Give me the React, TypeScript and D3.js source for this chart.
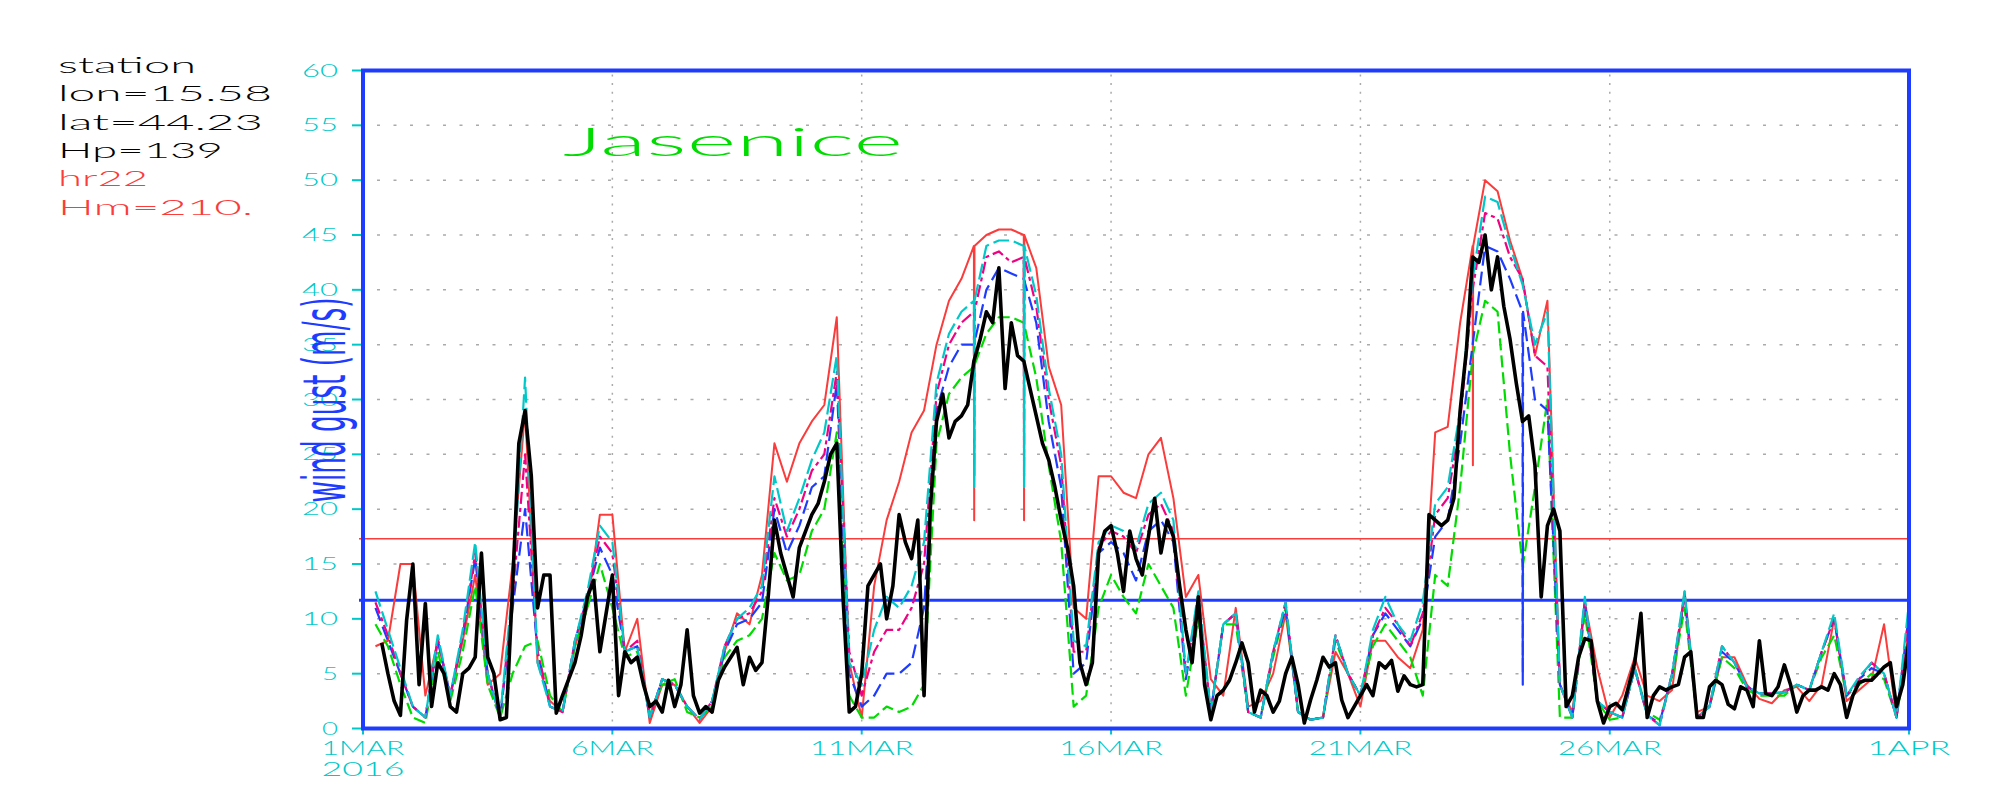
import React from "react";
import * as d3 from "d3";

// ---------------- DATA ----------------
const startDate = new Date(Date.UTC(2016, 2, 1));
const endDate = new Date(Date.UTC(2016, 3, 1));
const modelStepHours = 6;
const obsStepHours = 3;

// hr22 (red, solid) 6-hourly from 1 MAR 00z
const hr22Red: (number | null)[] = [null,
  7.5, 8, 15, 15, 3, 8, 3, 8, 14, 4, 5, 15, 29, 6, 2.5, 1.5, 7.5, 11, 19.5, 19.5,
  7, 10, 0.5, 4, 4, 2, 0.5, 2, 7, 10.5, 9.5, 14, 26, 22.5, 26, 28, 29.5, 37.5, 6, 1,
  13, 19, 22.5, 27, 29, 35, 39, 41, 44, 45, 45.5, 45.5, 45, 42, 33, 29.5, 11, 10, 23, 23,
  21.5, 21, 25, 26.5, 21, 12, 14, 4.5, 3, 11, 2, 2.5, 5, 10.5, 1.5, 0.8, 1, 7, 5, 2,
  8, 8, 6.5, 5.5, 9, 27, 27.5, 37, 44, 50, 49, 44.5, 41, 34, 39, 4, 1.5, 11.5, 5.5, 1,
  3, 6.5, 3, 2.5, 3.5, 12.5, 1.5, 2, 6.5, 6.5, 4, 2.7, 2.3, 3.5, 3.8, 2.5, 4, 10, 2.5, 3.5,
  4.5, 9.5, 1, 9];

const modelCyan: (number | null)[] = [null,
  12.5, 9, 5.5, 2, 1, 8.5, 3, 9, 17, 5, 1, 13, 32, 6, 2, 1.5, 8, 12.5, 18.5, 17,
  7, 7.5, 1, 4.5, 4, 2, 0.8, 2.5, 7.5, 10, 11, 13, 23, 18, 21, 24.5, 27, 34, 6, 4,
  9, 12, 11, 13, 17, 31.5, 36, 38, 39, 44, 44.5, 44.5, 44, 39.5, 31, 25, 8, 7.5, 17, 18.5,
  18, 16.5, 20.5, 21.5, 19, 5, 12.5, 1.5, 9.5, 10.5, 1.5, 1, 7, 11.5, 1.5, 0.8, 1, 8.5, 5, 3,
  9, 12, 9.5, 8, 11.5, 20.5, 22, 29, 41, 48.5, 48, 44, 40.5, 35, 38, 4, 1, 12, 2.5, 1.5,
  1, 5.5, 1.2, 0.3, 5, 12.5, 1, 2, 7.5, 6, 3.8, 3.2, 3.2, 3.3, 4, 3.5, 7, 10.5, 3, 4.7,
  6, 5, 1, 11.5];

const modelMagenta: (number | null)[] = [null,
  11.5, 8.5, 5, 2, 1, 8.2, 3, 8.5, 16, 5, 1, 12, 25, 7, 2, 1.5, 8, 12, 17.5, 16,
  7, 8, 1, 4.5, 4, 2, 0.8, 2.5, 7.5, 10, 10.5, 12.5, 21, 17.5, 20, 23.5, 25, 32.5, 7, 3,
  7, 9, 9, 11, 15, 30.5, 35, 37, 38, 43, 43.5, 42.5, 43, 38.5, 30, 24, 7, 7, 16.5, 18,
  17.5, 16, 19.5, 20.5, 18, 5, 12, 1.5, 9.5, 10.5, 1.5, 1, 7, 11.5, 1.5, 0.8, 1, 8.5, 5, 3,
  8.5, 11, 9.5, 7.5, 10.5, 19.5, 21, 28, 40, 47, 46.5, 43, 41, 34, 33, 4, 1, 11.5, 2.5, 1.5,
  1, 5.5, 1.2, 0.3, 5, 12.2, 1, 2, 7.5, 6, 3.8, 3.2, 3.2, 3.3, 4, 3.5, 7, 10, 3, 4.5,
  6, 5, 1, 10.5];

const modelBlue: (number | null)[] = [null,
  11, 8, 5, 2, 1, 8, 3, 8.5, 15.5, 5, 1, 11, 20, 7, 2, 1.5, 8, 12, 16.5, 14,
  7, 7.5, 1, 4.5, 4, 2, 0.8, 2.5, 7, 9.5, 10, 11.5, 20, 16, 18.5, 22, 23, 31.5, 5, 2,
  3, 5, 5, 6, 11, 29, 33, 35, 35, 40, 42, 41.5, 41, 37, 28, 22, 5, 6, 16, 17,
  16, 13.5, 18, 19, 17, 4.5, 11.5, 1.5, 9.5, 10.5, 1.5, 1, 7, 11, 1.5, 0.8, 1, 8.5, 5, 3,
  8.5, 10.5, 9, 7.5, 10, 17.5, 19, 26, 35, 44, 43.5, 41, 38, 30, 29, 4, 1, 11.5, 2.5, 1.5,
  1, 5.5, 1.2, 0.5, 5, 12, 1, 2, 7, 6, 3.8, 3.2, 3.2, 3.3, 4, 3.5, 7, 10, 3, 4.5,
  5.5, 5, 1, 10.5];

const modelGreen: (number | null)[] = [null,
  9.5, 7.5, 4, 1, 0.5, 7, 2.5, 7, 13, 4, 1, 5, 7.5, 8, 3, 1.5, 7.5, 11, 15, 11,
  6.5, 7, 1.5, 4, 4.5, 1.5, 1, 2, 6.5, 8, 8.5, 10, 16, 13.5, 14, 18, 20, 27, 3, 1,
  1, 2, 1.5, 2, 4, 26, 30.5, 32, 33, 36, 37.5, 37.5, 37, 32, 24, 17, 2, 3, 11, 14,
  12, 10.5, 15, 13, 11, 3, 10, 1.5, 9.5, 9.5, 1.5, 1, 6.5, 11, 1.5, 0.8, 1, 8, 5, 3,
  7.5, 9.5, 8, 6.5, 3, 14, 13, 22, 34, 39, 38, 25, 15, 22, 30, 1, 1, 10.5, 2.5, 0.8,
  1, 5.5, 1.5, 0.8, 4.5, 11, 1, 2, 6.5, 5.5, 3.5, 3, 3, 3, 4, 3.5, 6.5, 8.5, 3, 4,
  5, 4.5, 1, 8.5];

// observed gust (black), 3-hourly
const observedBlack: (number | null)[] = [
  null, null, null, 7.8, 5, 2.5, 1.2, 9.9,
  15, 4, 11.4, 2, 6, 5, 2, 1.5,
  5, 5.5, 6.5, 16, 6.5, 5, 0.8, 1,
  13, 26, 29, 23, 11, 14, 14, 1.4,
  3, 4.5, 6, 8.5, 12, 13.5, 7, 10.5,
  14, 3, 7, 6, 6.5, 4, 2, 2.5,
  1.5, 4.4, 2, 4, 9, 3, 1.4, 2,
  1.5, 4.4, 5.6, 6.5, 7.4, 4, 6.5, 5.3,
  6, 12, 19, 16, 14, 12, 16.5, 18,
  19.5, 20.5, 22.5, 25, 26, 12, 1.5, 2,
  5, 13, 14, 15, 10, 13, 19.5, 17,
  15.5, 19, 3, 20, 28, 30.5, 26.5, 28,
  28.5, 29.5, 33.5, 35.5, 38, 37, 42, 31,
  37, 34, 33.5, 31, 28.5, 26, 24.5, 22,
  19, 16.5, 13, 6, 4, 6, 16, 18,
  18.5, 16, 12.5, 18, 15.5, 14, 17.5, 21,
  16, 19, 17.5, 13, 9, 6, 12, 4,
  0.8, 3, 3.5, 4.4, 6, 7.8, 6, 1.5,
  3.5, 3, 1.5, 2.5, 5, 6.5, 4, 0.5,
  2.6, 4.4, 6.5, 5.6, 6, 2.6, 1, 2,
  3, 4, 3, 6, 5.5, 6.2, 3.4, 4.8,
  4, 3.8, 4, 19.5, 19, 18.5, 19, 21,
  29, 34.5, 43, 42.5, 45, 40, 43, 38.5,
  35.5, 31.5, 28, 28.5, 24, 12, 18.5, 20,
  18, 2, 3, 6.5, 8.2, 8, 2.5, 0.5,
  2, 2.3, 1.7, 3.8, 6, 10.5, 1, 3,
  3.8, 3.5, 3.8, 4, 6.5, 7, 1, 1,
  3.8, 4.4, 4, 2.2, 1.8, 3.8, 3.5, 2,
  8, 3.2, 3, 3.8, 5.8, 4, 1.5, 3,
  3.5, 3.5, 3.8, 3.5, 5, 4, 1, 3,
  4.2, 4.4, 4.4, 5, 5.6, 6, 2, 4,
  8];

// short drops at forecast-run boundaries: [series, day offset, value]
const runDrops: [string, number, number][] = [
  ["red", 12.25, 19], ["red", 13.25, 19], ["red", 22.25, 24],
  ["cyan", 12.25, 22], ["cyan", 13.25, 22],
  ["magenta", 12.25, 23], ["magenta", 13.25, 23],
  ["blue", 23.25, 4], ["green", 23.25, 5],
];

const thresholdRed = 17.3;
const thresholdBlue = 11.7;

const yTickValues = [0, 5, 10, 15, 20, 25, 30, 35, 40, 45, 50, 55, 60];
const yGridValues = [5, 10, 15, 20, 25, 30, 35, 40, 45, 50, 55];
const xTickDays = [0, 5, 10, 15, 20, 25, 31];
const xTickLabels = ["1MAR", "6MAR", "11MAR", "16MAR", "21MAR", "26MAR", "1APR"];
const xGridDays = [5, 10, 15, 20, 25];
const yearLabel = "2016";
const stationLines = ["station", "lon=15.58", "lat=44.23", "Hp=139", "hr22", "Hm=210."];
const stationLineColors = ["#000", "#000", "#000", "#000", "#fa3c3c", "#fa3c3c"];
const stationLineLengths = [138, 214, 205, 165, 90, 195];
const titleText = "Jasenice";
const yAxisTitle = "wind gust (m/s)";

// ---------------- CHART ----------------
const FONT = "Lato, 'DejaVu Sans', sans-serif";
const FW = 300;
const CYAN = "#00c8c8";
const BLUE = "#1e3cff";

type Pt = [number, number | null];

function buildPoints(vals: (number | null)[], stepH: number, key: string): Pt[] {
  const pts: Pt[] = [];
  const t0 = startDate.getTime();
  vals.forEach((v, i) => {
    const t = t0 + i * stepH * 3600e3;
    pts.push([t, v]);
    const drop = runDrops.find((d) => d[0] === key && Math.abs(d[1] * 24 - i * stepH) < 1e-6);
    if (drop && v != null) {
      pts.push([t + 8 * 60e3, drop[2]]);
      pts.push([t + 16 * 60e3, v]);
    }
  });
  return pts;
}

export default function App() {
  const W = 2000, H = 800;
  const left = 363, right = 1909, top = 70.5, bottom = 728.5;
  const x = d3.scaleUtc().domain([startDate, endDate]).range([left, right]);
  const y = d3.scaleLinear().domain([0, 60]).range([bottom, top]);
  const dayDate = (d: number) => new Date(startDate.getTime() + d * 86400e3);

  const line = d3
    .line<Pt>()
    .defined((d) => d[1] != null)
    .x((d) => x(new Date(d[0])))
    .y((d) => y(d[1] as number));

  const series = [
    { key: "red", vals: hr22Red, color: "#fa3c3c", width: 2, dash: undefined },
    { key: "green", vals: modelGreen, color: "#00dc00", width: 2.2, dash: "12,5" },
    { key: "blue", vals: modelBlue, color: BLUE, width: 2.2, dash: "14,6" },
    { key: "magenta", vals: modelMagenta, color: "#f00082", width: 2.2, dash: "12,4,4,4" },
    { key: "cyan", vals: modelCyan, color: CYAN, width: 2.2, dash: "16,5" },
  ];

  return (
    <svg
      width={W}
      height={H}
      style={{ position: "absolute", left: 0, top: 0, background: "#fff" }}
      fontFamily={FONT}
      fontWeight={FW}
    >
      <rect x={0} y={0} width={W} height={H} fill="#fff" />
      {/* station info */}
      {stationLines.map((s, i) => (
        <text
          key={s}
          x={58}
          y={73 + i * 28.3}
          fontSize={21}
          fill={stationLineColors[i]}
          textLength={stationLineLengths[i]}
          lengthAdjust="spacingAndGlyphs"
        >
          {s}
        </text>
      ))}
      {/* grid */}
      {yGridValues.map((v) => (
        <line key={"hg" + v} x1={left + 14} x2={right} y1={y(v)} y2={y(v)} stroke="#aaa" strokeWidth={1.5} strokeDasharray="3,13.5" />
      ))}
      {xGridDays.map((d) => (
        <line key={"vg" + d} x1={x(dayDate(d))} x2={x(dayDate(d))} y1={top + 4} y2={bottom} stroke="#aaa" strokeWidth={1.5} strokeDasharray="2,6.6" />
      ))}
      {/* thresholds */}
      <line x1={359} x2={right} y1={y(thresholdRed)} y2={y(thresholdRed)} stroke="#fa3c3c" strokeWidth={1.6} />
      <line x1={359} x2={right} y1={y(thresholdBlue)} y2={y(thresholdBlue)} stroke={BLUE} strokeWidth={3} />
      {/* model lines */}
      {series.map((s) => (
        <path
          key={s.key}
          d={line(buildPoints(s.vals, modelStepHours, s.key)) || ""}
          fill="none"
          stroke={s.color}
          strokeWidth={s.width}
          strokeDasharray={s.dash}
          strokeLinejoin="round"
        />
      ))}
      {/* observation */}
      <path
        d={line(buildPoints(observedBlack, obsStepHours, "black")) || ""}
        fill="none"
        stroke="#000"
        strokeWidth={3.6}
        strokeLinejoin="round"
      />
      {/* title */}
      <text x={563} y={156} fontSize={40} fill="#00dc00" textLength={340} lengthAdjust="spacingAndGlyphs">
        {titleText}
      </text>
      {/* y ticks */}
      {yTickValues.map((v) => {
        const s = String(v);
        return (
          <g key={"yt" + v}>
            <line x1={352} x2={left} y1={y(v)} y2={y(v)} stroke={CYAN} strokeWidth={2} />
            <text
              x={338}
              y={y(v) + 6}
              fontSize={17}
              fill={CYAN}
              textAnchor="end"
              textLength={s.length * 16 + (s.length - 1) * 4}
              lengthAdjust="spacingAndGlyphs"
            >
              {s}
            </text>
          </g>
        );
      })}
      {/* x ticks */}
      {xTickDays.map((d, i) => {
        const px = x(dayDate(d));
        const lab = xTickLabels[i];
        return (
          <g key={"xt" + d}>
            <line x1={px} x2={px} y1={bottom} y2={bottom + 6} stroke={CYAN} strokeWidth={2} />
            <text
              x={px}
              y={755}
              fontSize={20}
              fill={CYAN}
              textAnchor="middle"
              textLength={lab.length * 20.7}
              lengthAdjust="spacingAndGlyphs"
            >
              {lab}
            </text>
          </g>
        );
      })}
      <text x={x(dayDate(0))} y={776} fontSize={20} fill={CYAN} textAnchor="middle" textLength={83} lengthAdjust="spacingAndGlyphs">
        {yearLabel}
      </text>
      {/* y axis title */}
      <text
        transform={`translate(345,400) rotate(-90)`}
        fontSize={58}
        fontFamily="'DejaVu Sans', sans-serif"
        fontWeight={400}
        fill={BLUE}
        textAnchor="middle"
        textLength={205}
        lengthAdjust="spacingAndGlyphs"
      >
        {yAxisTitle}
      </text>
      {/* frame */}
      <rect x={left} y={top} width={right - left} height={bottom - top} fill="none" stroke={BLUE} strokeWidth={4} />
    </svg>
  );
}
